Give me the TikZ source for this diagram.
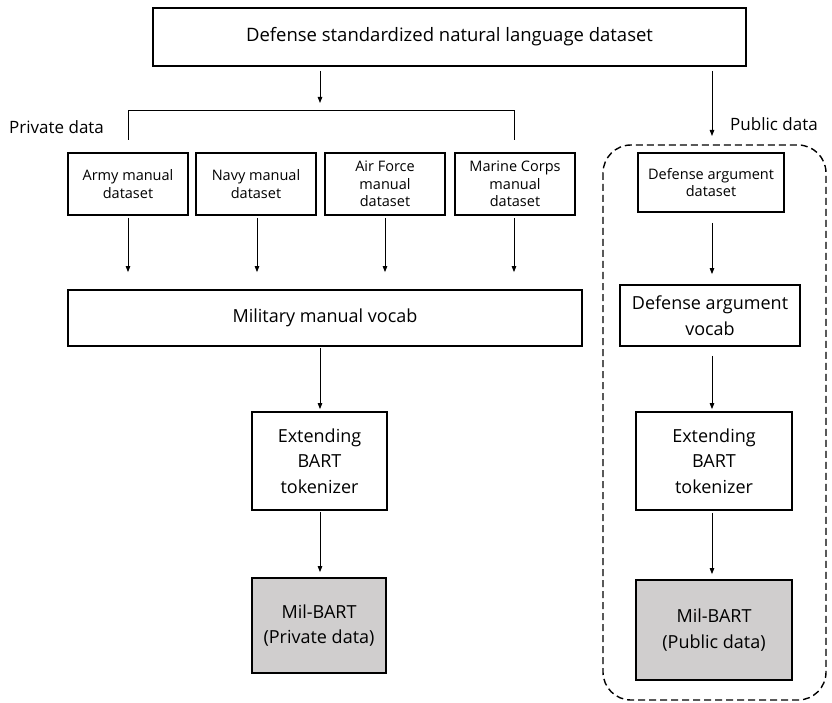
\documentclass[tikz,border=0pt]{standalone}
\usepackage{fontspec}
\setmainfont{Open Sans}
\usetikzlibrary{arrows.meta}
\definecolor{boxgray}{RGB}{208,206,206}
\begin{document}
\begin{tikzpicture}[x=1pt,y=-1pt,
  box/.style={draw=black,line width=1.8pt,align=center,inner sep=0pt,fill=white},
  bigtxt/.style={font=\fontsize{18}{25.5}\selectfont},
  toptxt/.style={font=\fontsize{18.5}{24}\selectfont},
  lbltxt/.style={font=\fontsize{17}{22}\selectfont},
  smalltxt/.style={font=\fontsize{14.5}{17.5}\selectfont},
  arr/.style={-{Triangle[length=6pt,width=4.5pt]},line width=0.9pt},
  ln/.style={line width=0.9pt}]
\useasboundingbox (0,0) rectangle (832,703);
% dashed public frame
\draw[dashed,line width=1.4pt,dash pattern=on 7pt off 4pt,rounded corners=28pt] (603,145) rectangle (826,700);
% nodes
\node[box,toptxt,minimum width=593pt,minimum height=58pt] (top) at (449.5,37) {Defense standardized natural language dataset};
\node[box,smalltxt,minimum width=120pt,minimum height=62pt] (army) at (128,184) {Army manual\\dataset};
\node[box,smalltxt,minimum width=120pt,minimum height=62pt] (navy) at (256,184) {Navy manual\\dataset};
\node[box,smalltxt,minimum width=120pt,minimum height=62pt] (air) at (385,184) {Air Force\\manual\\dataset};
\node[box,smalltxt,minimum width=120pt,minimum height=62pt] (marine) at (515,184) {Marine Corps\\manual\\dataset};
\node[box,bigtxt,minimum width=514pt,minimum height=56pt] (vocab) at (325,318) {Military manual vocab};
\node[box,bigtxt,minimum width=135pt,minimum height=98pt] (ext1) at (319.5,461) {Extending\\BART\\tokenizer};
\node[box,bigtxt,fill=boxgray,minimum width=134pt,minimum height=95pt] (mil1) at (319,625.5) {Mil-BART\\(Private data)};
\node[box,smalltxt,minimum width=146pt,minimum height=59pt] (dargds) at (711,182.5) {Defense argument\\dataset};
\node[box,bigtxt,minimum width=180pt,minimum height=61pt] (dargvoc) at (710,315.5) {Defense argument\\vocab};
\node[box,bigtxt,minimum width=156pt,minimum height=98pt] (ext2) at (714,461) {Extending\\BART\\tokenizer};
\node[box,bigtxt,fill=boxgray,minimum width=156pt,minimum height=100pt] (mil2) at (714,630) {Mil-BART\\(Public data)};
% labels
\node[lbltxt,anchor=west,inner sep=0pt] (privlbl) at (9,127) {Private data};
\node[lbltxt,anchor=west,inner sep=0pt] (publbl) at (730,124) {Public data};
% coordinates
\coordinate (splitL) at (128,110);
\coordinate (splitR) at (514,110);
\coordinate (splitLd) at (128,140);
\coordinate (splitRd) at (514,140);
\coordinate (splitM) at (320,103);
\coordinate (pubend) at (712,136);
% top connectors
\draw[arr,shorten <=4pt] (top.south -| splitM) -- (splitM);
\draw[ln] (splitLd) -- (splitL) -- (splitR) -- (splitRd);
\draw[arr,shorten <=4pt] (top.south -| pubend) -- (pubend);
% private chain
\foreach \n/\xx in {army/128,navy/257,air/385,marine/514}{
  \draw[arr,shorten >=17pt,shorten <=2pt] (\n.south -| \xx,0) -- (vocab.north -| \xx,0);
}
\draw[arr,shorten <=1pt,shorten >=2pt] (vocab.south -| 320,0) -- (ext1.north -| 320,0);
\draw[arr,shorten <=1pt,shorten >=5pt] (ext1.south -| 320,0) -- (mil1.north -| 320,0);
% public chain
\draw[arr,shorten <=10pt,shorten >=10pt] (dargds.south -| 712,0) -- (dargvoc.north -| 712,0);
\draw[arr,shorten <=9pt,shorten >=2pt] (dargvoc.south -| 712,0) -- (ext2.north -| 712,0);
\draw[arr,shorten <=2pt,shorten >=5pt] (ext2.south -| 712,0) -- (mil2.north -| 712,0);
\end{tikzpicture}
\end{document}
